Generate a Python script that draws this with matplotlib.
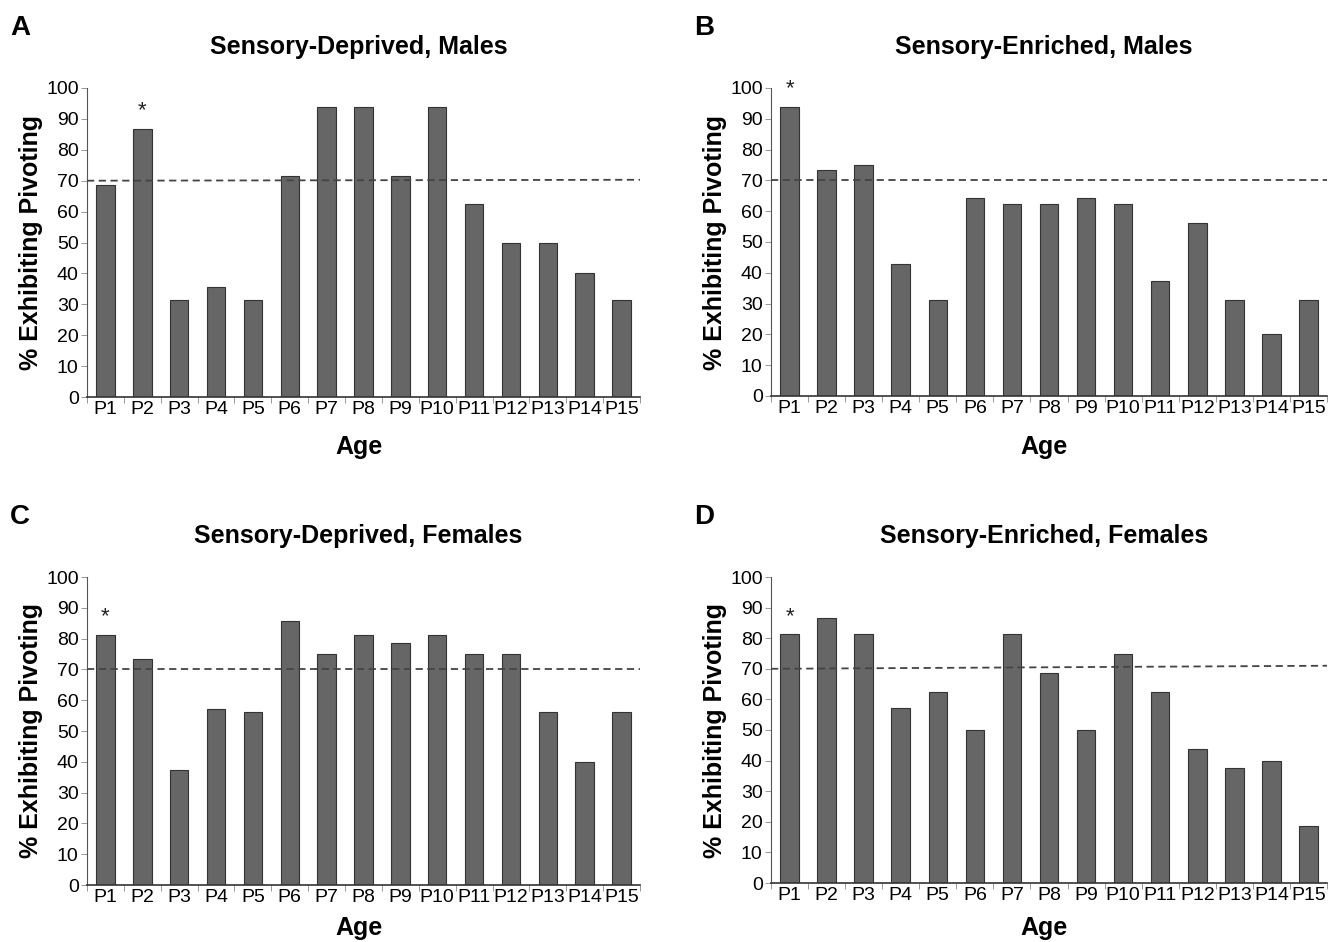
import numpy as np
import matplotlib
matplotlib.use('Agg')
import matplotlib.pyplot as plt

plt.rcParams['font.family'] = ['Liberation Sans', 'DejaVu Sans']

ages = ['P%d' % i for i in range(1, 16)]

# % exhibiting pivoting
dep_males = [68.75, 86.7, 31.25, 35.7, 31.25, 71.4, 93.75, 93.75, 71.4, 93.75, 62.5, 50, 50, 40, 31.25]
enr_males = [93.75, 73.3, 75, 42.9, 31.25, 64.3, 62.5, 62.5, 64.3, 62.5, 37.5, 56.25, 31.25, 20, 31.25]
dep_females = [81.25, 73.3, 37.5, 57.1, 56.25, 85.7, 75, 81.25, 78.6, 81.25, 75, 75, 56.25, 40, 56.25]
enr_females = [81.25, 86.7, 81.25, 57.1, 62.5, 50, 81.25, 68.75, 50, 75, 62.5, 43.75, 37.5, 40, 18.75]

titles = ['Sensory-Deprived, Males', 'Sensory-Enriched, Males',
          'Sensory-Deprived, Females', 'Sensory-Enriched, Females']
letters = ['A', 'B', 'C', 'D']
datasets = [dep_males, enr_males, dep_females, enr_females]
star_idx = [1, 0, 0, 0]          # bar carrying the asterisk
threshold = [(70, 70.3), (70, 70), (70, 70), (70, 71)]

W, H = 1328, 942
fig = plt.figure(figsize=(W / 100, H / 100), dpi=100)

# axes boxes in pixels: left, right, top(100), bottom(0)
boxes = [(87, 640, 88, 397), (771, 1327, 88, 396),
         (87, 640, 577, 885), (771, 1327, 577, 883)]
age_y = [447, 447, 928, 928]

for k in range(4):
    l, r, t, b = boxes[k]
    ax = fig.add_axes([l / W, 1 - b / H, (r - l) / W, (b - t) / H])
    x = np.arange(len(ages))
    vals = datasets[k]
    ax.bar(x, vals, width=0.5, color='#666666', edgecolor='#333333', linewidth=0.8, zorder=2)
    ax.plot([-0.5, len(ages) - 0.5], threshold[k], ls=(0, (4, 2.5)), color='#444444', lw=1.3, zorder=3)
    i = star_idx[k]
    ax.text(i, vals[i] + 2.5, '*', ha='center', va='bottom', fontsize=16, color='#222222')

    ax.set_xlim(-0.5, len(ages) - 0.5)
    ax.set_ylim(0, 100)
    ax.set_yticks(range(0, 101, 10))
    ax.set_xticks(x)
    ax.set_xticklabels(ages)
    ax.set_xticks(np.arange(-0.5, len(ages), 1), minor=True)
    ax.tick_params(axis='x', which='major', length=0, labelsize=14, pad=3)
    ax.tick_params(axis='x', which='minor', length=4, width=0.6, color='#888888')
    ax.tick_params(axis='y', length=4, width=0.6, color='#888888', labelsize=14, pad=2)
    for s in ['top', 'right']:
        ax.spines[s].set_visible(False)
    ax.spines['left'].set_color('#555555')
    ax.spines['bottom'].set_color('#333333')
    ax.spines['bottom'].set_linewidth(1.2)

    ax.set_ylabel('% Exhibiting Pivoting', fontsize=18, fontweight='bold', labelpad=2)

    cx = (l + r) / 2 - 5
    fig.text(cx / W, 1 - age_y[k] / H, 'Age', ha='center', va='center',
             fontsize=18, fontweight='bold')
    fig.text(cx / W, 1 - (t - 41) / H, titles[k], ha='center', va='center',
             fontsize=18, fontweight='bold')
    fig.text((l - 77) / W, 1 - (t - 60) / H, letters[k], ha='left', va='center',
             fontsize=20, fontweight='bold')

fig.savefig('out.png', dpi=100)
